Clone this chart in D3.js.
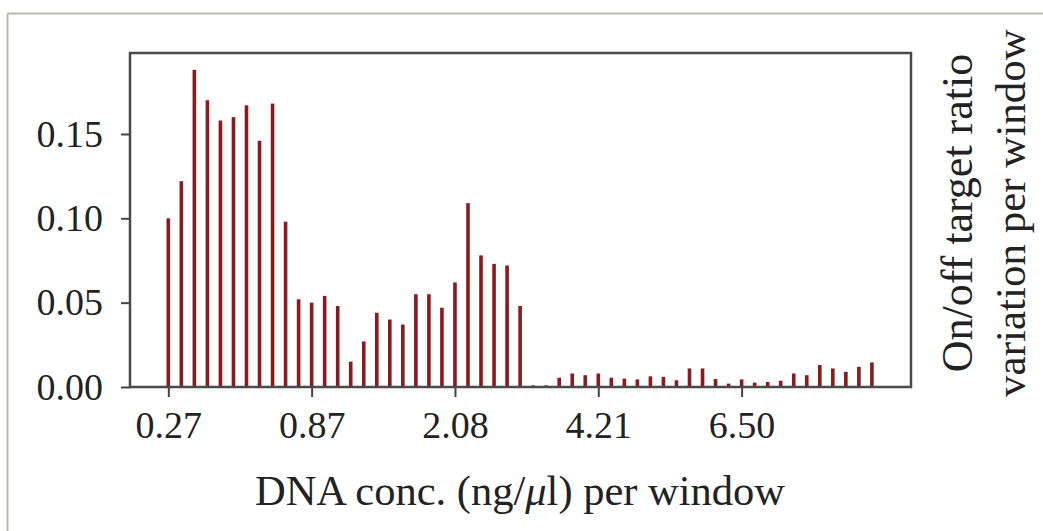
<!DOCTYPE html>
<html>
<head>
<meta charset="utf-8">
<script src="https://cdn.jsdelivr.net/npm/d3@7"></script>
<style>
  html, body { margin: 0; padding: 0; background: #fff; }
  svg { display: block; }
  text { font-family: "Liberation Serif", "DejaVu Serif", serif; fill: #222; }
</style>
</head>
<body>
<svg id="chart" width="1043" height="531"></svg>
<script>
// ---- data ----
const binIndex = d3.range(55);
const ratioVariation = [
  0.100, 0.122, 0.188, 0.170, 0.158, 0.160, 0.167, 0.146, 0.168, 0.098,
  0.052, 0.050, 0.054, 0.048, 0.015, 0.027, 0.044, 0.040, 0.037, 0.055,
  0.055, 0.047, 0.062, 0.109, 0.078, 0.073, 0.072, 0.048, 0.001, 0.001,
  0.0055, 0.008, 0.007, 0.008, 0.0055, 0.005, 0.0045, 0.0063, 0.006, 0.004,
  0.011, 0.011, 0.0047, 0.002, 0.0045, 0.0026, 0.003, 0.0037, 0.008, 0.007,
  0.013, 0.011, 0.009, 0.012, 0.0146
];
const xTickIndex = [0, 11, 22, 33, 44];
const xTickLabels = ["0.27", "0.87", "2.08", "4.21", "6.50"];
const yTicks = [0, 0.05, 0.10, 0.15];

// ---- layout ----
const svg = d3.select("#chart");
const L = 130, R = 911, T = 53, B = 387;

const x = d3.scaleLinear().domain([-2.94, 57]).range([L, R]);
const y = d3.scaleLinear().domain([0, 0.198]).range([B, T]);

// outer frame (figure panel border)
svg.append("line").attr("x1", 7.5).attr("x2", 1043).attr("y1", 13.5).attr("y2", 13.5)
  .attr("stroke", "#b9b9b1").attr("stroke-width", 2);
svg.append("line").attr("x1", 7.5).attr("x2", 7.5).attr("y1", 13.5).attr("y2", 531)
  .attr("stroke", "#b9b9b1").attr("stroke-width", 2);

// bars
svg.append("g").selectAll("rect").data(binIndex).join("rect")
  .attr("x", i => x(i) - 1.8)
  .attr("width", 3.6)
  .attr("y", i => y(ratioVariation[i]))
  .attr("height", i => y(0) - y(ratioVariation[i]))
  .attr("fill", "#8a1a1e");

// axes
const xAxis = d3.axisBottom(x).tickValues(xTickIndex)
  .tickFormat((d, i) => xTickLabels[i]).tickSize(10).tickPadding(14);
const gx = svg.append("g").attr("transform", `translate(0,${B})`).call(xAxis);
gx.select(".domain").remove();
gx.selectAll(".tick line").attr("stroke", "#444").attr("stroke-width", 2);
gx.selectAll(".tick text").attr("font-size", 38).attr("fill", "#222")
  .attr("font-family", "Liberation Serif, serif");

const yAxis = d3.axisLeft(y).tickValues(yTicks)
  .tickFormat(d3.format(".2f")).tickSize(9).tickPadding(18);
const gy = svg.append("g").attr("transform", `translate(${L},0)`).call(yAxis);
gy.select(".domain").remove();
gy.selectAll(".tick line").attr("stroke", "#444").attr("stroke-width", 2);
gy.selectAll(".tick text").attr("font-size", 38).attr("fill", "#222")
  .attr("font-family", "Liberation Serif, serif");

// plot box
svg.append("rect").attr("x", L).attr("y", T).attr("width", R - L).attr("height", B - T)
  .attr("fill", "none").attr("stroke", "#4a4a4a").attr("stroke-width", 2.5);

// x label (italic mu)
const xl = svg.append("text").attr("x", (252 + 788) / 2).attr("y", 505)
  .attr("text-anchor", "middle").attr("font-size", 42.5);
xl.append("tspan").text("DNA conc. (ng/");
xl.append("tspan").attr("font-style", "italic").text("\u03BC");
xl.append("tspan").text("l) per window");

// right label
svg.append("text").attr("transform", `translate(972,213) rotate(-90)`)
  .attr("text-anchor", "middle").attr("font-size", 44).text("On/off target ratio");
svg.append("text").attr("transform", `translate(1025,213) rotate(-90)`)
  .attr("text-anchor", "middle").attr("font-size", 43).text("variation per window");
</script>
</body>
</html>
